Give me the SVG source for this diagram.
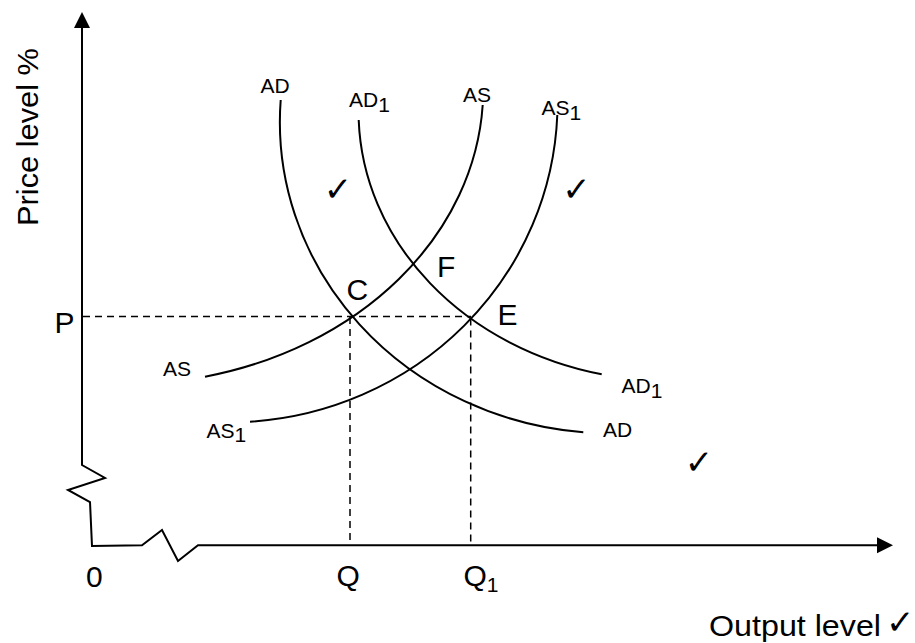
<svg xmlns="http://www.w3.org/2000/svg" width="915" height="643" viewBox="0 0 915 643">
<style>
.ax{fill:none;stroke:#000;stroke-width:2;stroke-linejoin:miter}
.cv{fill:none;stroke:#000;stroke-width:2}
.dash{fill:none;stroke:#000;stroke-width:1.5;stroke-dasharray:7 5}
.big{font-family:"Liberation Sans",Arial,sans-serif;font-size:30px;fill:#000}
.sm{font-family:"Liberation Sans",Arial,sans-serif;font-size:21px;fill:#000}
.tick{font-family:"DejaVu Sans",sans-serif;font-size:34px;fill:#000}
</style>
<rect width="915" height="643" fill="#fff"/>
<g id="axes">
<path class="ax" d="M82,27 L82,465 L105,478 L68,490 L90,502 L92,546 L142,545.3 L162,530 L178,561 L198,545.3 L878,545.3"/>
<polygon points="82,12 74,28 90,28" fill="#000"/>
<polygon points="893,545.3 877,537.3 877,553.3" fill="#000"/>
<text class="big" transform="translate(38,137) rotate(-90)" text-anchor="middle" textLength="178" lengthAdjust="spacingAndGlyphs">Price level %</text>
<text class="big" x="709" y="636"><tspan textLength="172" lengthAdjust="spacingAndGlyphs">Output level</tspan></text>
<text class="tick" x="886" y="634" font-size="22">✓</text>
<text class="big" x="86" y="586.5">0</text>
<text class="big" x="54.5" y="333">P</text>
<text class="big" x="336.5" y="585.5">Q</text>
<text class="big" x="463.5" y="585.5">Q<tspan font-size="21" dy="6">1</tspan></text>
</g>
<g id="guides">
<path class="dash" d="M83,316.5 H471 M350,317 V544 M470.7,318.5 V544"/>
</g>
<g id="curve-AD">
<path class="cv" d="M280.7,100 A331.9,311.4 0 0 0 583.3,432.3"/>
<text class="sm" x="260.5" y="93.3">AD</text>
<text class="sm" x="603" y="436.5">AD</text>
</g>
<g id="curve-AD1">
<path class="cv" d="M358.7,120 A311.3,269.5 0 0 0 601.7,374.3"/>
<text class="sm" x="349" y="106.5">AD<tspan dy="5">1</tspan></text>
<text class="sm" x="621.5" y="392.5">AD<tspan dy="5">1</tspan></text>
</g>
<g id="curve-AS">
<path class="cv" d="M482.7,105 A359.1,295.5 0 0 1 205,376.7"/>
<text class="sm" x="463" y="101.5">AS</text>
<text class="sm" x="163" y="375.5">AS</text>
</g>
<g id="curve-AS1">
<path class="cv" d="M557.3,115 A329.2,319.9 0 0 1 250,421.7"/>
<text class="sm" x="541.5" y="115">AS<tspan dy="5">1</tspan></text>
<text class="sm" x="206.5" y="438">AS<tspan dy="4">1</tspan></text>
</g>
<g id="points">
<text class="big" x="346.5" y="300">C</text>
<text class="big" x="437" y="277">F</text>
<text class="big" x="497.5" y="325">E</text>
</g>
<g id="ticks">
<text class="tick" x="338" y="201" text-anchor="middle">✓</text>
<text class="tick" x="576.5" y="201" text-anchor="middle">✓</text>
<text class="tick" x="699" y="474" text-anchor="middle">✓</text>
</g>
</svg>
